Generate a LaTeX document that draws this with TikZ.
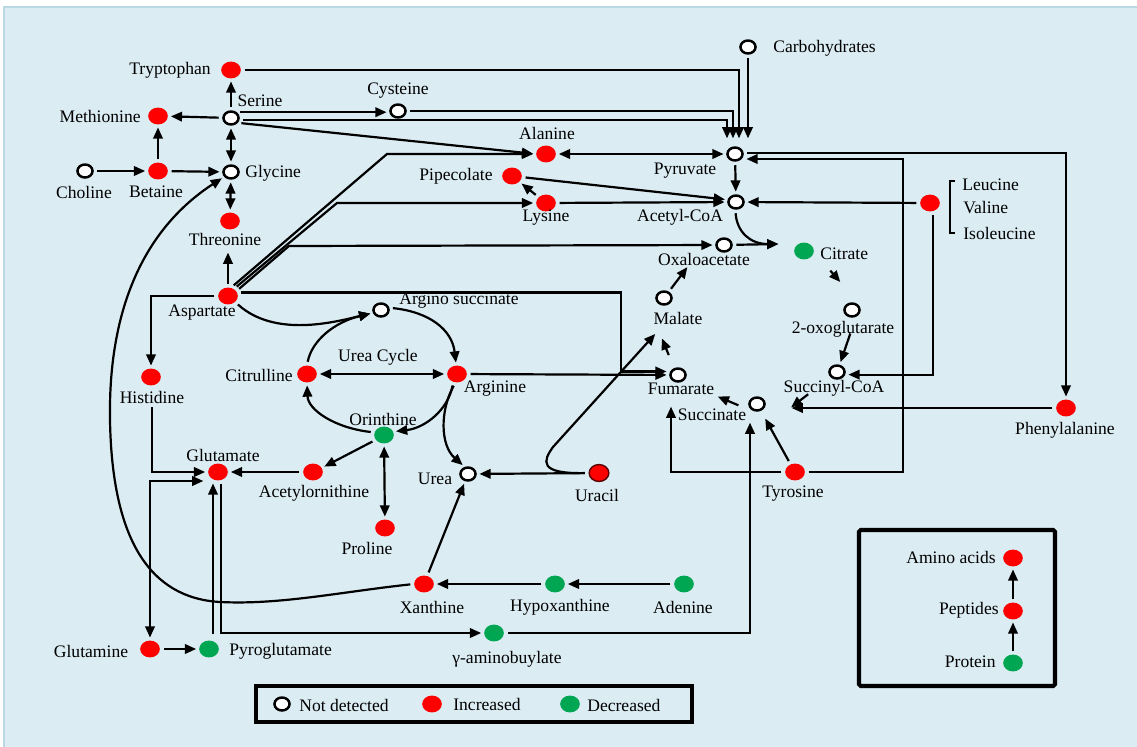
\documentclass[tikz,border=0pt]{standalone}
\usepackage{fontspec}
\setmainfont{Liberation Serif}
\usetikzlibrary{arrows.meta,shapes.geometric}
\definecolor{panel}{RGB}{219,236,243}
\definecolor{paneledge}{RGB}{186,216,228}
\definecolor{incred}{RGB}{255,0,0}
\definecolor{decgreen}{RGB}{0,166,81}
\begin{document}
\begin{tikzpicture}[x=0.02cm,y=-0.02cm,
  >={Triangle[length=6.4pt,width=5.4pt]},
  ln/.style={line width=1.25pt},
  arr/.style={ln,->,shorten <=2pt,shorten >=1.5pt},
  darr/.style={ln,<->,shorten <=1.5pt,shorten >=1.5pt},
  ndnode/.style={ellipse,draw=black,fill=white,line width=1.4pt,minimum width=8.6pt,minimum height=7.4pt,inner sep=0pt},
  incnode/.style={ellipse,fill=incred,minimum width=11.2pt,minimum height=9.6pt,inner sep=0pt},
  decnode/.style={ellipse,fill=decgreen,minimum width=11.2pt,minimum height=9.6pt,inner sep=0pt},
  lab/.style={font=\fontsize{10}{12}\selectfont,inner sep=0pt},
]
% canvas and panel
\useasboundingbox (0,0) rectangle (1137,747);
\fill[white] (0,0) rectangle (1137,747);
\draw[fill=panel,draw=paneledge,line width=1.2pt] (4,7) rectangle (1142,752);

% ---------- metabolites ----------
\node[ndnode]  (carb)  at (748,47)  {};
\node[incnode] (tryp)  at (231,70)  {};
\node[ndnode]  (ser)   at (231,118) {};
\node[ndnode]  (cys)   at (398,111) {};
\node[incnode] (met)   at (158,116) {};
\node[ndnode]  (gly)   at (231,172) {};
\node[ndnode]  (cho)   at (85,171)  {};
\node[incnode] (bet)   at (158,171) {};
\node[incnode] (thr)   at (230,221) {};
\node[incnode] (ala)   at (546,154) {};
\node[ndnode]  (pyr)   at (735,154) {};
\node[incnode] (pip)   at (512,176) {};
\node[incnode] (lys)   at (546,203) {};
\node[ndnode]  (acoa)  at (736,202) {};
\node[incnode] (leu)   at (930,203) {};
\node[ndnode]  (oxa)   at (724,245) {};
\node[decnode] (cit)   at (804,251) {};
\node[incnode] (asp)   at (228,296) {};
\node[ndnode]  (args)  at (381,310) {};
\node[ndnode]  (mal)   at (664,298) {};
\node[ndnode]  (oxg)   at (852,310) {};
\node[incnode] (his)   at (151,377) {};
\node[incnode] (citr)  at (307,374) {};
\node[incnode] (arg)   at (457,374) {};
\node[ndnode]  (fum)   at (678,375) {};
\node[ndnode]  (sucoa) at (837,372) {};
\node[ndnode]  (suc)   at (757,404) {};
\node[incnode] (phe)   at (1066,408) {};
\node[decnode] (orn)   at (384,435) {};
\node[incnode] (glu)   at (218,472) {};
\node[incnode] (acorn) at (313,472) {};
\node[ndnode]  (urea)  at (468,474) {};
\node[incnode,draw=black!65!incred,line width=0.8pt] (ura) at (599,473) {};
\node[incnode] (tyr)   at (795,472) {};
\node[incnode] (pro)   at (385,528) {};
\node[incnode] (xan)   at (424,584) {};
\node[decnode] (hyp)   at (555,584) {};
\node[decnode] (ade)   at (684,584) {};
\node[incnode] (gln)   at (150,649) {};
\node[decnode] (pyg)   at (209,649) {};
\node[decnode] (gaba)  at (494,633) {};

% ---------- labels ----------
\node[lab,anchor=west] (carb-l) at (773,48)  {Carbohydrates};
\node[lab,anchor=east] (tryp-l) at (211,70)  {Tryptophan};
\node[lab] (ser-l)   at (260,101) {Serine};
\node[lab] (cys-l)   at (398,91)  {Cysteine};
\node[lab,anchor=east] (met-l) at (141,116) {Methionine};
\node[lab,anchor=west] (gly-l) at (245,173) {Glycine};
\node[lab] (cho-l)   at (84,192)  {Choline};
\node[lab] (bet-l)   at (156,192) {Betaine};
\node[lab] (thr-l)   at (225,239) {Threonine};
\node[lab] (ala-l)   at (547,133) {Alanine};
\node[lab] (pyr-l)   at (685,171) {Pyruvate};
\node[lab] (pip-l)   at (456,176) {Pipecolate};
\node[lab] (lys-l)   at (546,218) {Lysine};
\node[lab] (acoa-l)  at (680,217) {Acetyl-CoA};
\node[lab,anchor=west] (leu-l) at (962,185) {Leucine};
\node[lab,anchor=west] (val-l) at (963,208) {Valine};
\node[lab,anchor=west] (ile-l) at (963,233) {Isoleucine};
\node[lab] (oxa-l)   at (704,259) {Oxaloacetate};
\node[lab,anchor=west] (cit-l) at (820,254) {Citrate};
\node[lab] (asp-l)   at (202,313) {Aspartate};
\node[lab,anchor=west] (args-l) at (399,301) {Argino succinate};
\node[lab] (mal-l)   at (678,318) {Malate};
\node[lab] (oxg-l)   at (843,329) {2-oxoglutarate};
\node[lab] (his-l)   at (152,397) {Histidine};
\node[lab,anchor=east] (citr-l) at (293,375) {Citrulline};
\node[lab] (cyc-l)   at (378,357) {Urea Cycle};
\node[lab] (arg-l)   at (495,389) {Arginine};
\node[lab] (fum-l)   at (681,389) {Fumarate};
\node[lab] (sucoa-l) at (834,388) {Succinyl-CoA};
\node[lab] (suc-l)   at (712,415) {Succinate};
\node[lab] (phe-l)   at (1065,430) {Phenylalanine};
\node[lab] (orn-l)   at (383,419) {Orinthine};
\node[lab] (glu-l)   at (223,455) {Glutamate};
\node[lab] (acorn-l) at (314,493) {Acetylornithine};
\node[lab] (urea-l)  at (435,479) {Urea};
\node[lab] (ura-l)   at (597,495) {Uracil};
\node[lab] (tyr-l)   at (793,494) {Tyrosine};
\node[lab] (pro-l)   at (367,548) {Proline};
\node[lab] (xan-l)   at (432,607) {Xanthine};
\node[lab] (hyp-l)   at (560,607) {Hypoxanthine};
\node[lab] (ade-l)   at (683,607) {Adenine};
\node[lab] (gln-l)   at (91,651)  {Glutamine};
\node[lab,anchor=west] (pyg-l) at (229,651) {Pyroglutamate};
\node[lab] (gaba-l)  at (507,659) {γ-aminobuylate};

% bracket grouping the branched-chain amino acids
\draw[line width=0.9pt] (955,181) -- (950,181) -- (950,233) -- (955,233);

% ---------- connection points ----------
\coordinate (pin1) at (727,141);
\coordinate (pin2) at (733,141);
\coordinate (pin3) at (739,141);
\coordinate (pin4) at (748,141);
\coordinate (bAla) at (387,154);
\coordinate (bLys) at (337,203);
\coordinate (bOxa) at (289,246);
\coordinate (bFum) at (621,290);
\coordinate (hook) at (553,447);
\coordinate (malin) at (657,332);
\coordinate (malin2) at (661,336);
\coordinate (oxain) at (689,265);
\coordinate (citin) at (781,244);
\coordinate (c2a) at (828,268);
\coordinate (c2b) at (842,284);
\coordinate (sucr) at (789,409);
\coordinate (sucin) at (750,420);
\coordinate (fumin) at (671,404);
\coordinate (tyrup) at (903,159);
\coordinate (gluin2) at (206,481);
\coordinate (pygup) at (213,634);

% ---------- serine / glycine block ----------
\draw[arr] (tryp) -| (pin3);
\draw[arr] (cys) -| (pin2);
\draw[arr] (ser.-12) -| (pin1);
\draw[arr] (carb) -- (pin4);
\draw[arr] (ser.45) -- (ser.45 -| cys.west);
\draw[arr] (ser.-35) -- (ala.west);
\draw[arr] (ser) -- (tryp);
\draw[arr] (ser) -- (met);
\draw[darr] (ser) -- (gly);
\draw[arr] (cho) -- (bet);
\draw[arr] (bet) -- (met);
\draw[arr] (bet) -- (gly);
\draw[darr] (gly) -- (thr);
\draw[arr,shorten >=4pt] (asp) -- (asp |- thr-l.south);

% ---------- aspartate branches ----------
\draw[arr] (asp.70) -- (bAla) -- (ala);
\draw[arr] (asp.50) -- (bLys) -- (lys);
\draw[arr] (asp.30) -- (bOxa) -- (oxa);
\draw[arr] (asp.20) -- (asp.20 -| bFum) |- ([yshift=2pt]fum.west);
\draw[arr] (asp) -| (his);
\draw[arr] (his-l) |- (glu);

% ---------- urea cycle ----------
\draw[arr] (asp.-40) .. controls (275,338) and (335,322) .. (args.200);
\draw[arr] (citr.north) .. controls (312,340) and (335,322) .. (args.200);
\draw[arr] (args.15) .. controls (430,312) and (452,330) .. (arg.95);
\draw[darr] (citr) -- (arg);
\draw[arr] (arg.-115) .. controls (448,410) and (425,428) .. (orn.20);
\draw[arr] (arg.-100) .. controls (440,410) and (440,445) .. (urea.115);
\draw[arr] (orn.165) .. controls (335,428) and (308,410) .. (citr.-90);
\draw[arr] (orn.-150) -- (acorn.25);
\draw[arr] (acorn) -- (glu);
\draw[darr] (orn) -- (pro);
\draw[arr] (arg) -- (fum);

% ---------- purines / pyrimidines ----------
\draw[arr] (ura) -- (urea);
\draw[arr] (ura.west) .. controls (538,474) and (543,461) .. (hook) -- (malin);
\draw[arr] (xan) -- (urea);
\draw[arr] (hyp) -- (xan);
\draw[arr] (ade) -- (hyp);
\draw[arr] (xan.west) .. controls (340,592) and (280,605) .. (220,602)
  .. controls (150,598) and (112,540) .. (110,420)
  .. controls (108,300) and (150,225) .. (gly.-145);

% ---------- glutamate block ----------
\draw[darr] (gluin2) -| (gln);
\draw[arr] (gln) -- (pyg);
\draw[arr,shorten <=0pt] (pygup) -- (pygup |- glu.south);
\draw[arr] ([xshift=1.6pt]glu.south) |- (gaba);
\draw[arr] (gaba) -| (sucin);

% ---------- TCA cycle ----------
\draw[darr] (ala) -- (pyr);
\draw[arr] (pyr) -- (acoa);
\draw[arr] (pip) -- (acoa.165);
\draw[arr] (lys) -- (pip);
\draw[arr] (lys) -- (acoa);
\draw[arr] (leu) -- (acoa);
\draw[arr] ([xshift=1.5pt]leu.south) |- ([yshift=-1.5pt]sucoa.east);
\draw[arr] (acoa.-95) .. controls (737,232) and (750,244) .. (citin);
\draw[arr] (oxa) -- (citin);
\draw[arr] (c2a) -- (c2b);
\draw[arr,shorten <=10pt] (oxg.-60) -- (sucoa.70);
\draw[arr,shorten <=16pt] (sucoa) -- (sucr);
\draw[arr] (phe) -- (phe -| sucr);
\draw[arr,shorten <=5pt,shorten >=2pt] (suc-l.north east) -- (fum-l.south east);
\draw[arr,shorten <=8pt] (fum.120) -- (malin2);
\draw[arr] (mal) -- (oxain);
\draw[arr,shorten >=5pt] (tyr.120) -- (suc.-60);
\draw[arr] (tyr) -| (fumin);
\draw[arr] (tyr) -| (tyrup) -- (tyrup -| pyr.east);
\draw[arr] (pyr.8) -| (phe);

% ---------- legend: detection status ----------
\draw[line width=1.8pt] (256,686) rectangle (692,722);
\node[ndnode]  (k-nd)  at (282,704) {};
\node[lab,anchor=west] (k-nd-l) at (299,705) {Not detected};
\node[incnode] (k-inc) at (432,704) {};
\node[lab,anchor=west] (k-inc-l) at (453,704) {Increased};
\node[decnode] (k-dec) at (570,704) {};
\node[lab,anchor=west] (k-dec-l) at (587,705) {Decreased};

% ---------- legend: protein breakdown ----------
\draw[line width=2.3pt,rounded corners=1pt] (859,530) rectangle (1055,686);
\node[incnode] (amino) at (1013,558) {};
\node[lab,anchor=east] (amino-l) at (996,557) {Amino acids};
\node[incnode] (pep)   at (1013,611) {};
\node[lab,anchor=east] (pep-l) at (999,610) {Peptides};
\node[decnode] (prot)  at (1013,663) {};
\node[lab,anchor=east] (prot-l) at (996,662) {Protein};
\draw[arr] (prot) -- (pep);
\draw[arr] (pep) -- (amino);
\end{tikzpicture}
\end{document}
